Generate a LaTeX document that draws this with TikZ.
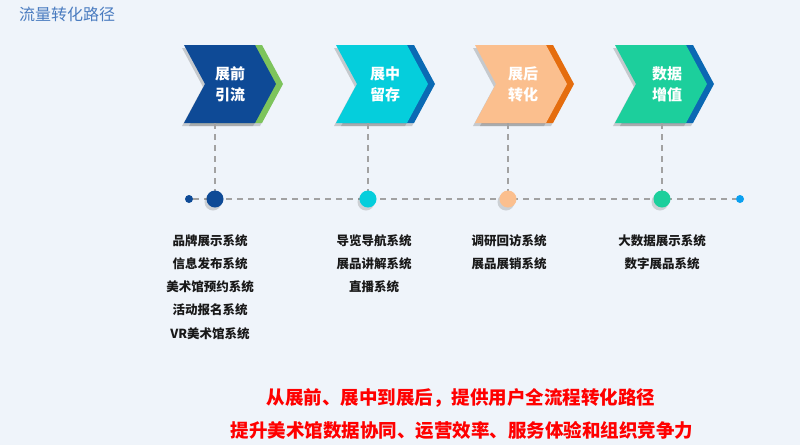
\documentclass[tikz,border=0pt]{standalone}
\usepackage{fontspec}
\setmainfont{Noto Sans CJK SC}
\usetikzlibrary{shadows}
\definecolor{bgc}{HTML}{EFF4FA}
\definecolor{titleblue}{HTML}{4A7CC0}
\definecolor{cA}{HTML}{0E4A96}
\definecolor{cAb}{HTML}{7DC45C}
\definecolor{cB}{HTML}{05CEDC}
\definecolor{cBb}{HTML}{0A6AB4}
\definecolor{cC}{HTML}{FBBF8E}
\definecolor{cCb}{HTML}{E56D0E}
\definecolor{cD}{HTML}{1CCF9C}
\definecolor{cDb}{HTML}{0B68B3}
\definecolor{endblue}{HTML}{0AA0F0}
\definecolor{dashgray}{HTML}{A2A2A2}
\definecolor{redtxt}{HTML}{FF0000}
\tikzset{
  chevshadow/.style={drop shadow={shadow xshift=-2pt,shadow yshift=-3pt,opacity=0.3,fill=black!60}},
  chevtext/.style={text=white,font=\bfseries\fontsize{15}{20}\selectfont,align=center,inner sep=0pt},
  dashline/.style={draw=dashgray,line width=1.6pt,dash pattern=on 6pt off 5pt},
  bigdot/.style={circle,minimum size=17pt,inner sep=0pt,drop shadow={shadow xshift=-2pt,shadow yshift=-3pt,opacity=0.25,fill=black!60}},
  smalldot/.style={circle,minimum size=8pt,inner sep=0pt},
  listtext/.style={font=\bfseries\fontsize{12.5}{23.3}\selectfont,align=center,text=black!90,inner sep=0pt,anchor=north},
  redline/.style={font=\bfseries\fontsize{18.5}{20}\selectfont,text=redtxt,inner sep=0pt},
}
\newcommand{\mychev}[3]{%
  \fill[#3,chevshadow] (#1+7,45) -- (#1+78,45) -- (#1+99,84) -- (#1+78,123) -- (#1+7,123) -- (#1+28,84) -- cycle;
  \fill[#2,chevshadow] (#1,45) -- (#1+71,45) -- (#1+92,84) -- (#1+71,123) -- (#1,123) -- (#1+21,84) -- cycle;
}
\begin{document}
\begin{tikzpicture}[x=1pt,y=-1pt]
\fill[bgc] (0,0) rectangle (800,445);
\useasboundingbox (0,0) rectangle (800,445);

% title
\node[anchor=west,text=titleblue,font=\fontsize{16}{18}\selectfont,inner sep=0pt] (title) at (19,14) {流量转化路径};

% chevrons
\mychev{184}{cA}{cAb}
\mychev{336}{cB}{cBb}
\mychev{475}{cC}{cCb}
\mychev{615}{cD}{cDb}

\node[chevtext] (t1) at (230,84) {展前\\[1pt]引流};
\node[chevtext] (t2) at (385,84) {展中\\[1pt]留存};
\node[chevtext] (t3) at (523,84) {展后\\[1pt]转化};
\node[chevtext] (t4) at (667,84) {数据\\[1pt]增值};

% chevron bottoms
\coordinate (b1) at (215,123);
\coordinate (b2) at (368,123);
\coordinate (b3) at (508,123);
\coordinate (b4) at (662,123);

% timeline
\node[smalldot,fill=cA] (d0) at (189,199) {};
\node[smalldot,fill=endblue] (d5) at (740,199) {};
\draw[dashline] (d0) -- (d5);
\draw[dashline] (b1) -- (215,199);
\draw[dashline] (b2) -- (368,199);
\draw[dashline] (b3) -- (508,199);
\draw[dashline] (b4) -- (662,199);
\node[bigdot,fill=cA] (d1) at (215,199) {};
\node[bigdot,fill=cB] (d2) at (368,199) {};
\node[bigdot,fill=cC] (d3) at (508,199) {};
\node[bigdot,fill=cD] (d4) at (662,199) {};

% lists
\node[listtext] (l1) at (210,234) {品牌展示系统\\信息发布系统\\美术馆预约系统\\活动报名系统\\VR美术馆系统};
\node[listtext] (l2) at (374,234) {导览导航系统\\展品讲解系统\\直播系统};
\node[listtext] (l3) at (509,234) {调研回访系统\\展品展销系统};
\node[listtext] (l4) at (662,234) {大数据展示系统\\数字展品系统};

% red statements
\node[redline] (r1) at (461,398) {从展前、展中到展后，提供用户全流程转化路径};
\node[redline] (r2) at (462,430) {提升美术馆数据协同、运营效率、服务体验和组织竞争力};
\end{tikzpicture}
\end{document}
